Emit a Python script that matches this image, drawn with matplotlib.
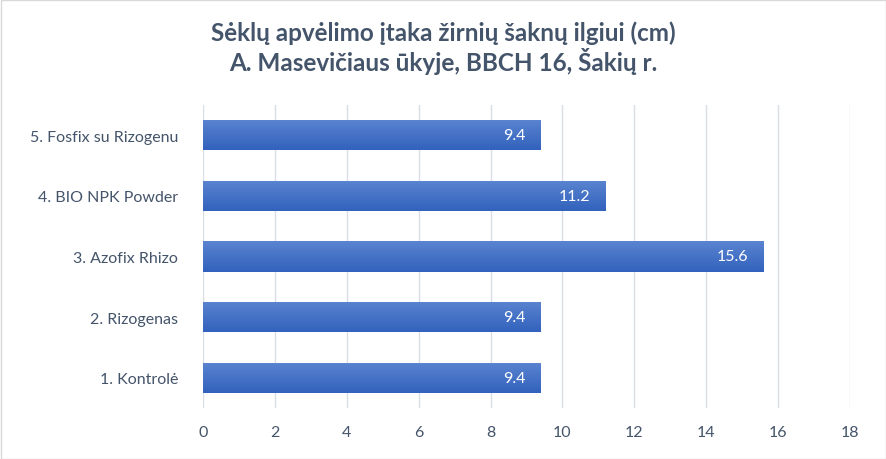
import numpy as np
import matplotlib
matplotlib.use("Agg")
import matplotlib.pyplot as plt
from matplotlib.colors import LinearSegmentedColormap

categories = ["1. Kontrolė", "2. Rizogenas", "3. Azofix Rhizo",
              "4. BIO NPK Powder", "5. Fosfix su Rizogenu"]
values = [9.4, 9.4, 15.6, 11.2, 9.4]
x_ticks = [0, 2, 4, 6, 8, 10, 12, 14, 16, 18]
title = "Sėklų apvėlimo įtaka žirnių šaknų ilgiui (cm)\nA. Masevičiaus ūkyje, BBCH 16, Šakių r."

text_color = "#44546a"
grid_color = "#d9dde5"
font = ["Lato", "DejaVu Sans"]

fig = plt.figure(figsize=(8.86, 4.60), dpi=100)
fig.patch.set_facecolor("white")
ax = fig.add_axes([203 / 886, 1 - 409 / 460, (850 - 203) / 886, (409 - 106) / 460])

y = np.arange(len(categories))
bars = ax.barh(y, values, height=0.5, color="#4472c4", zorder=2)

# vertical gradient fill, lighter on top
cmap = LinearSegmentedColormap.from_list("bar", ["#3262bd", "#5b84d0"])
grad = np.linspace(0, 1, 256).reshape(-1, 1)
for b in bars:
    x0, y0 = b.get_x(), b.get_y()
    w, h = b.get_width(), b.get_height()
    im = ax.imshow(grad, cmap=cmap, aspect="auto", origin="lower",
                   extent=(x0, x0 + w, y0, y0 + h), zorder=3)
    im.set_clip_path(b)

for yi, v in zip(y, values):
    ax.text(v - 0.42, yi, f"{v:.1f}", ha="right", va="center", color="white",
            fontsize=11.5, family=font, zorder=4)

ax.set_xlim(0, 18)
ax.set_ylim(-0.5, len(categories) - 0.5)
ax.set_xticks(x_ticks)
ax.set_xticklabels([str(t) for t in x_ticks], fontsize=11.5, family=font, color=text_color)
ax.set_yticks(y)
ax.set_yticklabels(categories, fontsize=11.5, family=font, color=text_color)
ax.tick_params(axis="both", length=0)
ax.tick_params(axis="x", pad=12)
ax.tick_params(axis="y", pad=18)
ax.grid(axis="x", color=grid_color, linewidth=1, zorder=0)
ax.set_axisbelow(True)
for s in ax.spines.values():
    s.set_visible(False)

fig.text(0.5, 1 - 48 / 460, title, ha="center", va="center", fontsize=17.5,
         fontweight="bold", family=font, color=text_color, linespacing=1.15)

# chart border
fig.add_artist(plt.Rectangle((0.5 / 886, 0.5 / 460), 1 - 1 / 886, 1 - 1 / 460,
                             transform=fig.transFigure, fill=False,
                             edgecolor="#d9d9d9", linewidth=1))

fig.savefig("out.png", dpi=100, facecolor="white")
